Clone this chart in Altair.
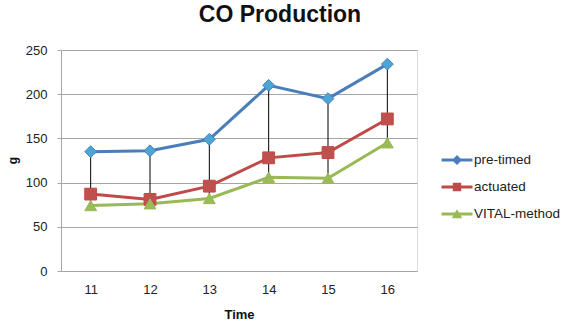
import altair as alt
import pandas as pd

# Observation times and CO production (g) per control method
times = ["11", "12", "13", "14", "15", "16"]
series = ["pre-timed", "actuated", "VITAL-method"]
pre_timed = [135, 136, 149, 210, 195, 234]
actuated = [87, 81, 96, 128, 134, 172]
vital = [74, 76, 82, 106, 105, 145]
y_ticks = [0, 50, 100, 150, 200, 250]

line_colors = ["#4A7EBB", "#BE4B48", "#98B954"]
marker_fills = ["#4BA6D8", "#C0504D", "#9BBB59"]
marker_shapes = ["diamond", "square", "triangle-up"]

# Legend glyphs: a short line segment with the series marker on it
bar = "M-1.55,-0.15H1.55V0.15H-1.55Z "
legend_shapes = [
    bar + "M0,-0.5L0.5,0L0,0.5L-0.5,0Z",
    bar + "M-0.42,-0.42H0.42V0.42H-0.42Z",
    bar + "M0,-0.48L0.52,0.42H-0.52Z",
]

rows = []
for name, vals in zip(series, [pre_timed, actuated, vital]):
    for t, v in zip(times, vals):
        rows.append({"Time": t, "series": name, "g": v})
df = pd.DataFrame(rows)

FONT = "Liberation Sans"
GRID = "#A6A6A6"

x_enc = alt.X(
    "Time:O",
    sort=times,
    scale=alt.Scale(type="point", padding=0.5),
    axis=alt.Axis(
        title="Time", labelAngle=0, ticks=False, tickSize=0, grid=False,
        domainColor=GRID, labelPadding=12, labelFontSize=13,
        labelFont=FONT, labelColor="#222222", titleFont=FONT,
        titleFontSize=13, titleFontWeight="bold", titleColor="#111111",
        titleY=43, titleBaseline="middle",
    ),
)
y_enc = alt.Y(
    "g:Q",
    scale=alt.Scale(domain=[0, 250], nice=False, zero=True),
    axis=alt.Axis(
        values=y_ticks, title="g", grid=True, gridColor=GRID,
        domainColor=GRID, tickColor=GRID, tickSize=4, labelPadding=10,
        labelFontSize=13, labelFont=FONT, labelColor="#222222",
        titleFont=FONT, titleFontSize=12, titleFontWeight="bold",
        titleColor="#111111", titleAngle=270, titleX=-49, titleY=110,
        titleBaseline="middle", titleAlign="center",
    ),
)

base = alt.Chart(df)

# One line and one marker layer per series
lines = []
markers = []
for name, shp, fill, edge in zip(series, marker_shapes, marker_fills, line_colors):
    sub = base.transform_filter(alt.datum.series == name)
    lines.append(sub.mark_line(strokeWidth=3, color=edge).encode(x=x_enc, y=y_enc))
    markers.append(
        sub.mark_point(shape=shp, filled=True, size=140, fill=fill, stroke=edge,
                       strokeWidth=1, opacity=1)
        .encode(x=x_enc, y=y_enc)
    )

# High-low lines joining the highest and lowest series at each time
drops = base.mark_rule(color="#000000", strokeWidth=1).encode(
    x=x_enc,
    y=alt.Y("min(g):Q"),
    y2=alt.Y2("max(g):Q"),
)

# Empty point layer that only supplies the legend
legend_layer = base.transform_filter("false").mark_point(filled=True, opacity=1).encode(
    x=x_enc,
    y=y_enc,
    color=alt.Color(
        "series:N",
        scale=alt.Scale(domain=series, range=line_colors),
        legend=alt.Legend(
            title=None, orient="none", legendX=385, legendY=99,
            symbolSize=400, rowPadding=9, labelOffset=6, padding=0,
            labelFont=FONT, labelFontSize=13.5, labelColor="#222222",
        ),
    ),
    shape=alt.Shape("series:N", scale=alt.Scale(domain=series, range=legend_shapes)),
)

chart = (
    alt.layer(*lines, drops, *markers, legend_layer)
    .properties(
        width=356,
        height=221,
        padding={"left": 61, "top": 50, "right": 146, "bottom": 56},
        autosize=alt.AutoSizeParams(type="none"),
        title=alt.TitleParams(
            "CO Production", font=FONT, fontSize=23, fontWeight="bold",
            color="#111111", anchor="middle", dx=41, offset=17,
        ),
    )
    .configure_view(stroke=None)
    .configure(background="white")
)

chart.save("out.html", embed_options={"renderer": "svg", "actions": False})
